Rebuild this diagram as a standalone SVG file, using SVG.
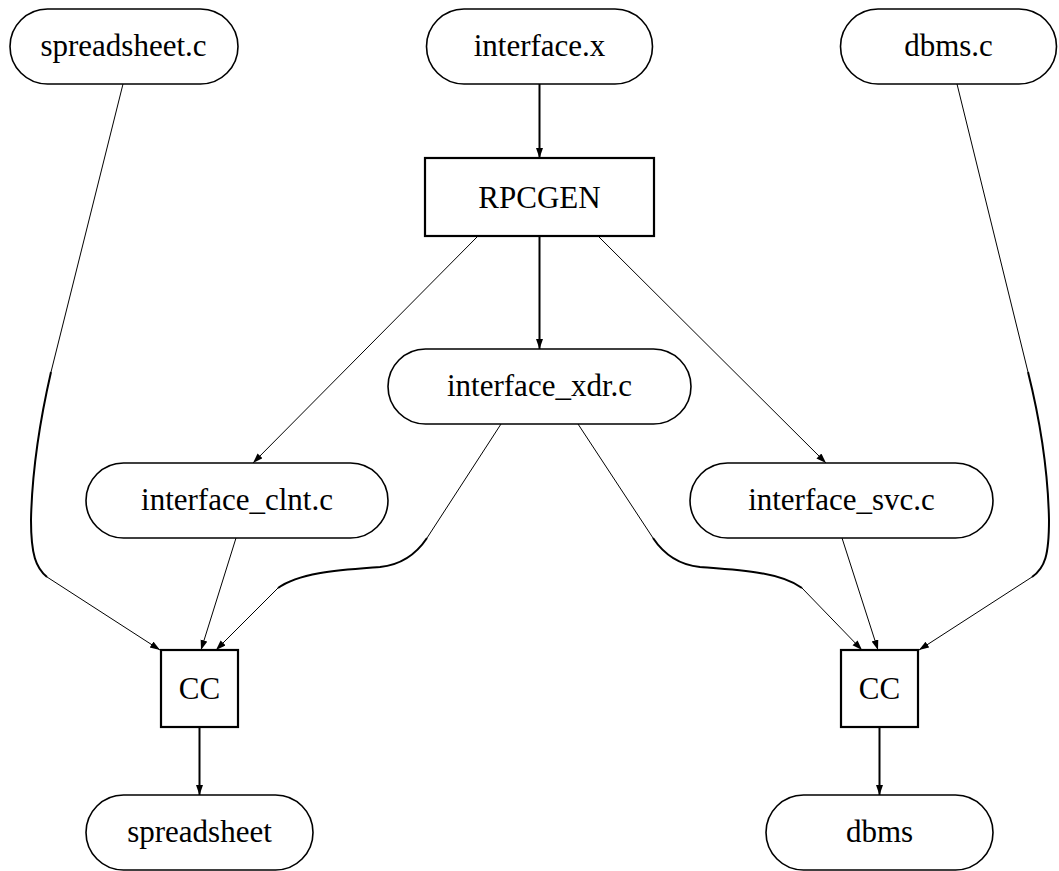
<svg xmlns="http://www.w3.org/2000/svg" width="1059" height="871" viewBox="0 0 1059 871">
<style>
.node{fill:#fff;stroke:#000;stroke-width:1.6}
.box{fill:#fff;stroke:#000;stroke-width:2.2}
.lbl{font-family:"Liberation Serif","DejaVu Serif",serif;font-size:31px;text-anchor:middle;fill:#000}
.thin{fill:none;stroke:#000;stroke-width:1}
.thick{fill:none;stroke:#000;stroke-width:2}
</style>
<defs>
<marker id="ah" markerUnits="userSpaceOnUse" markerWidth="10" markerHeight="8" refX="10" refY="3.5" orient="auto">
<path d="M0,0 L10,3.5 L0,7 z" fill="#000"/>
</marker>
</defs>
<rect width="1059" height="871" fill="#fff"/>
<g id="connectors">
<path class="thick" d="M539.5,84 L539.5,158" marker-end="url(#ah)"/>
<path class="thick" d="M539.5,236 L539.5,349" marker-end="url(#ah)"/>
<path class="thin" d="M478,236 L253,463" marker-end="url(#ah)"/>
<path class="thin" d="M598,236 L826,463" marker-end="url(#ah)"/>
<path class="thin" d="M123,84 L51,372"/>
<path class="thick" d="M51,372 C40,420 32,470 31,520 C31,555 36,568 47,577"/>
<path class="thin" d="M47,577 L160,650" marker-end="url(#ah)"/>
<path class="thin" d="M957,84 L1028,372"/>
<path class="thick" d="M1028,372 C1040,420 1048,470 1049,520 C1049,555 1045,568 1032,577"/>
<path class="thin" d="M1032,577 L919,650" marker-end="url(#ah)"/>
<path class="thin" d="M236,538 L201,650" marker-end="url(#ah)"/>
<path class="thin" d="M842,538 L878,650" marker-end="url(#ah)"/>
<path class="thin" d="M501,424 L427,538"/>
<path class="thick" d="M427,538 C415,556 400,565 380,567 C340,570 300,572 278,588"/>
<path class="thin" d="M278,588 L216,650" marker-end="url(#ah)"/>
<path class="thin" d="M578,424 L653,538"/>
<path class="thick" d="M653,538 C665,556 680,565 700,567 C740,570 780,572 802,588"/>
<path class="thin" d="M802,588 L862,650" marker-end="url(#ah)"/>
<path class="thick" d="M199.5,727 L199.5,795" marker-end="url(#ah)"/>
<path class="thick" d="M879.5,727 L879.5,795" marker-end="url(#ah)"/>
</g>
<g id="spreadsheet_c">
<path class="node" d="M47.5,9 H200.5 A37.5,37.5 0 0 1 200.5,84 H47.5 A37.5,37.5 0 0 1 47.5,9 Z"/>
<text class="lbl" x="123.5" y="56">spreadsheet.c</text>
</g>
<g id="interface_x">
<path class="node" d="M464,9 H615 A37.5,37.5 0 0 1 615,84 H464 A37.5,37.5 0 0 1 464,9 Z"/>
<text class="lbl" x="539.5" y="56">interface.x</text>
</g>
<g id="dbms_c">
<path class="node" d="M878,9 H1019 A37.5,37.5 0 0 1 1019,84 H878 A37.5,37.5 0 0 1 878,9 Z"/>
<text class="lbl" x="948.5" y="56">dbms.c</text>
</g>
<g id="rpcgen">
<rect class="box" x="425" y="158" width="229" height="78"/>
<text class="lbl" x="539.5" y="208">RPCGEN</text>
</g>
<g id="interface_xdr_c">
<path class="node" d="M425.5,349 H653.5 A37.5,37.5 0 0 1 653.5,424 H425.5 A37.5,37.5 0 0 1 425.5,349 Z"/>
<text class="lbl" x="539.5" y="396">interface_xdr.c</text>
</g>
<g id="interface_clnt_c">
<path class="node" d="M123.5,463 H350.5 A37.5,37.5 0 0 1 350.5,538 H123.5 A37.5,37.5 0 0 1 123.5,463 Z"/>
<text class="lbl" x="237" y="510">interface_clnt.c</text>
</g>
<g id="interface_svc_c">
<path class="node" d="M727.5,463 H955.5 A37.5,37.5 0 0 1 955.5,538 H727.5 A37.5,37.5 0 0 1 727.5,463 Z"/>
<text class="lbl" x="841.5" y="510">interface_svc.c</text>
</g>
<g id="cc_left">
<rect class="box" x="161" y="650" width="77" height="77"/>
<text class="lbl" x="199.5" y="699">CC</text>
</g>
<g id="cc_right">
<rect class="box" x="841" y="650" width="77" height="77"/>
<text class="lbl" x="879.5" y="699">CC</text>
</g>
<g id="spreadsheet">
<path class="node" d="M123.5,795 H275.5 A37.5,37.5 0 0 1 275.5,870 H123.5 A37.5,37.5 0 0 1 123.5,795 Z"/>
<text class="lbl" x="199.5" y="842">spreadsheet</text>
</g>
<g id="dbms">
<path class="node" d="M803.5,795 H955.5 A37.5,37.5 0 0 1 955.5,870 H803.5 A37.5,37.5 0 0 1 803.5,795 Z"/>
<text class="lbl" x="879.5" y="842">dbms</text>
</g>
</svg>
